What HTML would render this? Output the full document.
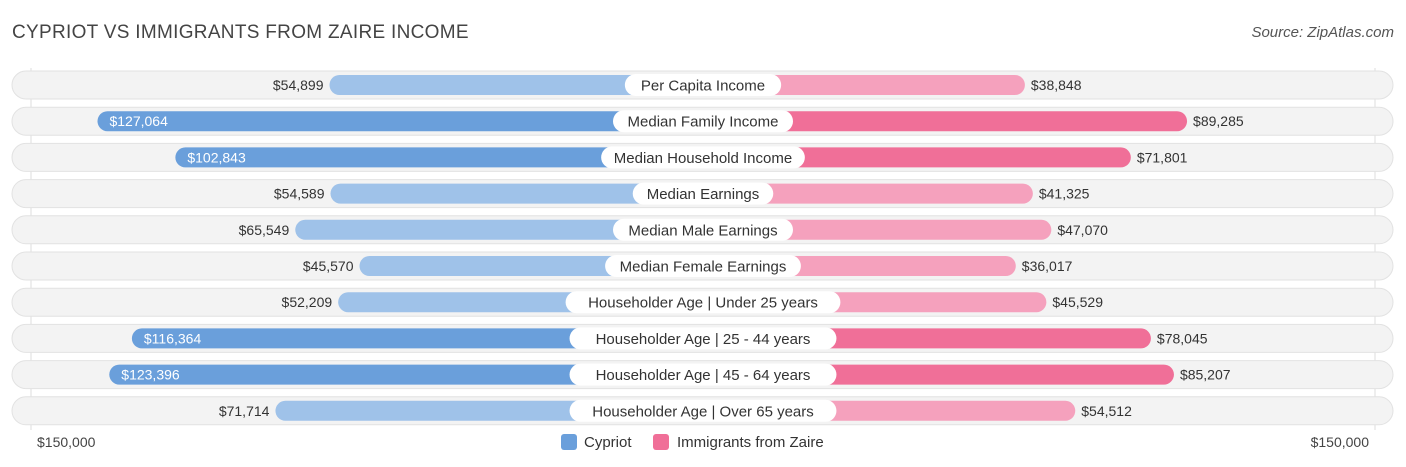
<!DOCTYPE html>
<html><head><meta charset="utf-8"><style>
body{margin:0;width:1406px;height:467px;background:#fff;font-family:"Liberation Sans",sans-serif;overflow:hidden;position:relative}
.t{position:absolute;white-space:nowrap}
</style></head><body>
<div class="t" style="left:12px;top:22px;font-size:19px;color:#444;letter-spacing:0.3px">CYPRIOT VS IMMIGRANTS FROM ZAIRE INCOME</div>
<div class="t" style="right:12px;top:24px;font-size:15px;color:#555;font-style:italic">Source: ZipAtlas.com</div>
<svg id="c" width="1406" height="467" style="position:absolute;left:0;top:0"></svg>
<script>
const categories=["Per Capita Income","Median Family Income","Median Household Income","Median Earnings","Median Male Earnings","Median Female Earnings","Householder Age | Under 25 years","Householder Age | 25 - 44 years","Householder Age | 45 - 64 years","Householder Age | Over 65 years"];
const cypriot=[54899,127064,102843,54589,65549,45570,52209,116364,123396,71714];
const zaire=[38848,89285,71801,41325,47070,36017,45529,78045,85207,54512];
const axisLabels=["$150,000","$150,000"];
const svg=document.getElementById('c');
const NS="http://www.w3.org/2000/svg";
const cx=703, base=197, k=0.003215;
function len(v){return base+v*k;}
function yOf(i){return 85+i*36.2;}
function fmt(v){return "$"+v.toLocaleString("en-US");}
function mk(t,a){const e=document.createElementNS(NS,t);for(const n in a)e.setAttribute(n,a[n]);svg.appendChild(e);return e;}
const maxL=Math.max(...cypriot), maxR=Math.max(...zaire);
mk('line',{x1:31,x2:31,y1:68,y2:430,stroke:'#ddd'});
mk('line',{x1:1375,x2:1375,y1:68,y2:430,stroke:'#ddd'});
categories.forEach((c,i)=>{
  const y=yOf(i);
  const bg=mk('rect',{x:12,y:y-14,width:1381,height:28,rx:14,fill:'#f3f3f3',stroke:'#e2e2e2'});
  
  
  const lv=cypriot[i], rv=zaire[i];
  const ld=lv/maxL>0.7, rd=rv/maxR>0.7;
  const lb=mk('rect',{x:cx-len(lv),y:y-10,width:len(lv),height:20,rx:10,fill:ld?'#6a9fdb':'#9fc2e9'});
  
  
  const rb=mk('rect',{x:cx,y:y-10,width:len(rv),height:20,rx:10,fill:rd?'#f06f98':'#f5a1bd'});
  
  
  const lt=mk('text',{x:ld?cx-len(lv)+12:cx-len(lv)-6,y:y+5,'font-size':14,fill:ld?'#fff':'#333','text-anchor':ld?'start':'end'});
  lt.textContent=fmt(lv);
  
  
  const rt=mk('text',{x:cx+len(rv)+6,y:y+5,'font-size':14,fill:'#333'});
  rt.textContent=fmt(rv);
  
  
  const w=c.length*7.9+22;
  const pill=mk('rect',{x:cx-w/2,y:y-11,width:w,height:22,rx:11,fill:'#fff'});
  
  
  const ct=mk('text',{x:cx,y:y+5.5,'font-size':15,fill:'#333','text-anchor':'middle'});
  ct.textContent=c;
  
  
});
const a1=mk('text',{x:37,y:447,'font-size':14,fill:'#444'});a1.textContent=axisLabels[0];


const a2=mk('text',{x:1369,y:447,'font-size':14,fill:'#444','text-anchor':'end'});a2.textContent=axisLabels[1];


const s1=mk('rect',{x:561,y:434,width:16,height:16,rx:3,fill:'#6a9fdb'});


const l1=mk('text',{x:584,y:447,'font-size':15,fill:'#333'});l1.textContent="Cypriot";


const s2=mk('rect',{x:653,y:434,width:16,height:16,rx:3,fill:'#f06f98'});


const l2=mk('text',{x:677,y:447,'font-size':15,fill:'#333'});l2.textContent="Immigrants from Zaire";


</script>
</body></html>
